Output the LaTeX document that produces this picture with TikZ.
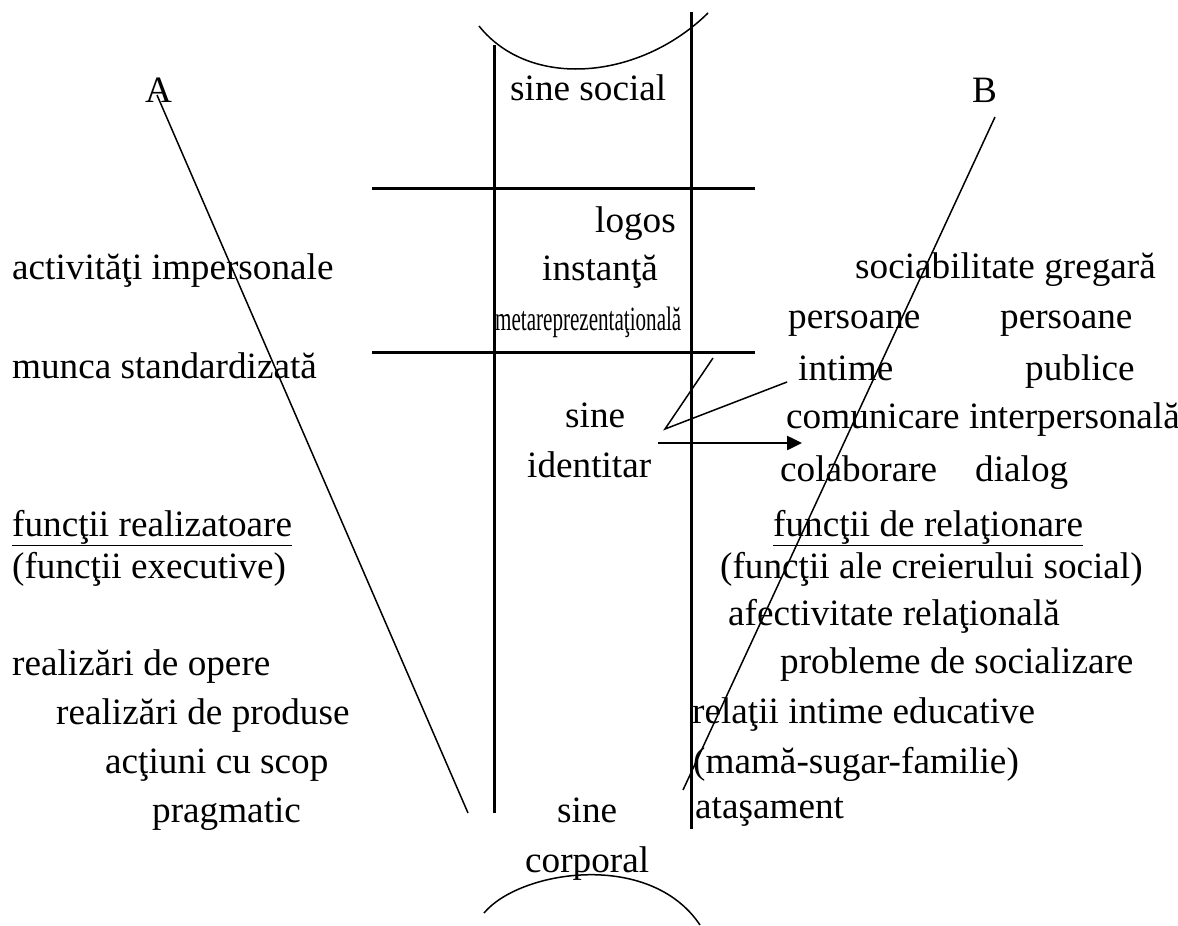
\documentclass[tikz,border=0pt]{standalone}
\usepackage{fontspec}
\setmainfont{Liberation Serif}
\usetikzlibrary{arrows.meta}
\newcommand{\mainsize}{\fontsize{37.2}{44}\selectfont}
\tikzset{
  txt/.style={anchor=base west, inner sep=0pt, font=\mainsize},
  thickline/.style={line width=3pt},
  thinline/.style={line width=1.5pt},
}
\begin{document}
\begin{tikzpicture}[x=1pt,y=-1pt]
\useasboundingbox (0,0) rectangle (1178,926);
% coordinates
\coordinate (lvt) at (494,45);  \coordinate (lvb) at (494,813);
\coordinate (rvt) at (691,12);  \coordinate (rvb) at (691,829);
\coordinate (h1l) at (372,188); \coordinate (h1r) at (755,188);
\coordinate (h2l) at (372,352); \coordinate (h2r) at (755,352);
\coordinate (at) at (157,95);   \coordinate (ab) at (468,813);
\coordinate (bt) at (995,117);  \coordinate (bb) at (683,790);
\coordinate (z1) at (713,358);  \coordinate (z2) at (665,429); \coordinate (z3) at (787,382);
\coordinate (ar1) at (658,443); \coordinate (ar2) at (802,443);
\coordinate (ta1) at (479,26);  \coordinate (ta2) at (708,13);
\coordinate (ba1) at (484,913); \coordinate (ba2) at (700,925);
% structure lines
\draw[thickline] (lvt) -- (lvb);
\draw[thickline] (rvt) -- (rvb);
\draw[thickline] (h1l) -- (h1r);
\draw[thickline] (h2l) -- (h2r);
\draw[thinline] (at) -- (ab);
\draw[thinline] (bt) -- (bb);
\draw[thinline] (z1) -- (z2) -- (z3);
\draw[line width=2.5pt,-{Triangle[length=15pt,width=14pt]}] (ar1) -- (ar2);
\draw[thinline] (ta1) .. controls (530,90) and (640,80) .. (ta2);
\draw[thinline] (ba1) .. controls (520,870) and (650,850) .. (ba2);
% top labels
\node[txt] (A) at (145,102) {A};
\node[txt] (B) at (972,102) {B};
\node[txt] (sinesocial) at (510,100) {sine social};
% centre
\node[txt] (logos) at (595,232) {logos};
\node[txt] (instanta) at (542,280) {instanţă};
\node[anchor=base west, inner sep=0pt] (meta) at (495,330) {\scalebox{0.62}[1]{\fontsize{34}{40}\selectfont metareprezentaţională}};
\node[txt] (sine1) at (565,427) {sine};
\node[txt] (identitar) at (527,477) {identitar};
\node[txt] (sine2) at (557,822) {sine};
\node[txt] (corporal) at (525,872) {corporal};
% left column
\node[txt] (l1) at (12,279) {activităţi impersonale};
\node[txt] (l2) at (12,378) {munca standardizată};
\node[txt] (l3) at (12,536) {\underline{funcţii realizatoare}};
\node[txt] (l4) at (12,578) {(funcţii executive)};
\node[txt] (l5) at (12,675) {realizări de opere};
\node[txt] (l6) at (56,724) {realizări de produse};
\node[txt] (l7) at (105,773) {acţiuni cu scop};
\node[txt] (l8) at (152,822) {pragmatic};
% right column
\node[txt] (r1) at (855,278) {sociabilitate gregară};
\node[txt] (r2a) at (788,328) {persoane};
\node[txt] (r2b) at (1000,328) {persoane};
\node[txt] (r3a) at (798,380) {intime};
\node[txt] (r3b) at (1025,380) {publice};
\node[txt] (r4) at (786,428) {comunicare interpersonală};
\node[txt] (r5a) at (780,481) {colaborare};
\node[txt] (r5b) at (975,481) {dialog};
\node[txt] (r6) at (773,536) {\underline{funcţii de relaţionare}};
\node[txt] (r7) at (720,578) {(funcţii ale creierului social)};
\node[txt] (r8) at (728,625) {afectivitate relaţională};
\node[txt] (r9) at (780,673) {probleme de socializare};
\node[txt] (r10) at (692,723) {relaţii intime educative};
\node[txt] (r11) at (693,773) {(mamă-sugar-familie)};
\node[txt] (r12) at (695,818) {ataşament};
\end{tikzpicture}
\end{document}
